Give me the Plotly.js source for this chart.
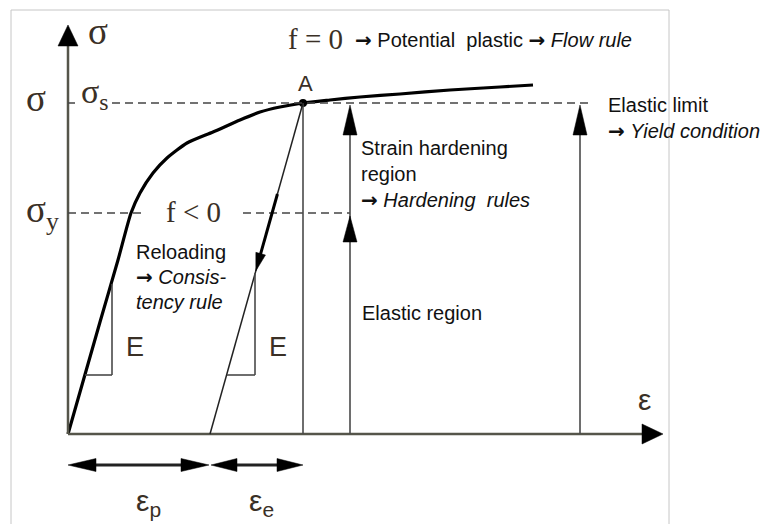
<!DOCTYPE html>
<html><head><meta charset="utf-8">
<script src="https://cdn.plot.ly/plotly-3.0.1.min.js"></script>
<style>html,body{margin:0;padding:0;background:#fff}</style>
</head><body><div id="chart" style="width:771px;height:524px"></div>
<script>
// ---- diagram data (strain, stress in diagram units) ----
const curveStrain = [0, 32, 50, 63, 72, 85, 99, 119, 145, 172, 192, 212, 235, 262, 292, 332, 382, 432, 465];
const curveStress = [0, 112, 174, 221, 241, 261, 276, 291, 302, 314, 322, 327, 331, 334, 337, 340, 344, 347, 349];
const pointA = [235, 331];          // unloading point A
const sigmaS = 331;                 // stress at A
const sigmaY = 221;                 // initial yield stress
const epsP = 142;                   // residual (plastic) strain
const hardeningStrain = 282;        // strain of hardening-region arrow
const limitStrain = 512;            // strain of elastic-limit arrow
const axisTip = [595, 409];         // ends of the strain / stress axes
const bracketStress = -31;          // level of the strain brackets
const triangleBase = 59;            // stress of the E triangles
const tri1 = [17, 44, 150];         // [x0, x1, top]
const tri2 = [159, 187, 161];
const unloadArrow = [240, 163];     // stress range of the drawn unloading arrow

const axisCol = '#55554a', lineCol = '#4a4a4a', txt = '#111', brown = '#3a3026';
const SANS = 'Liberation Sans, Arial, sans-serif', SERIF = 'Liberation Serif, Times New Roman, serif';
const ARW = '<b><span style="font-family:DejaVu Sans">→</span></b>';

function head(tx, ty, dx, dy, len, hw) {
  const n = Math.hypot(dx, dy), ux = dx / n, uy = dy / n;
  const bx = tx - ux * len, by = ty - uy * len, px = -uy, py = ux;
  return `M${tx},${ty} L${bx + px * hw},${by + py * hw} L${bx - px * hw},${by - py * hw} Z`;
}
function line(x0, y0, x1, y1, color, width, dash) {
  return {type: 'line', xref: 'x', yref: 'y', x0, y0, x1, y1, line: {color, width, dash: dash || 'solid'}};
}
function tri(path, color) {
  return {type: 'path', xref: 'x', yref: 'y', path, fillcolor: color, line: {color, width: 0.5}};
}
const onUnload = s => epsP + (pointA[0] - epsP) * s / pointA[1];

const shapes = [
  // frame
  {type: 'rect', xref: 'x', yref: 'y', x0: -57, x1: 601, y0: 424, y1: -120, line: {color: '#c6c6c6', width: 1}},
  // axes
  line(0, 0, 0, axisTip[1] - 18, axisCol, 2.5),
  line(0, 0, axisTip[0] - 18, 0, axisCol, 2.5),
  tri(head(0, axisTip[1], 0, 1, 21, 10), '#000'),
  tri(head(axisTip[0], 0, 1, 0, 21, 10), '#000'),
  // dashed stress levels
  line(0, sigmaS, 7, sigmaS, '#444', 1.5, '8px,5px'),
  line(44, sigmaS, limitStrain + 8, sigmaS, '#444', 1.5, '8px,5px'),
  line(0, sigmaY, 77, sigmaY, '#444', 1.5, '8px,5px'),
  line(175, sigmaY, hardeningStrain, sigmaY, '#444', 1.5, '8px,5px'),
  // vertical lines
  line(pointA[0], 0, pointA[0], pointA[1], lineCol, 1.6),
  line(hardeningStrain, 0, hardeningStrain, sigmaS - 20, lineCol, 1.6),
  tri(head(hardeningStrain, sigmaS - 2, 0, 1, 30, 7), '#000'),
  tri(head(hardeningStrain, sigmaY - 3, 0, 1, 26, 7), '#000'),
  line(limitStrain, 0, limitStrain, sigmaS - 20, lineCol, 1.6),
  tri(head(limitStrain, sigmaS - 2, 0, 1, 30, 7), '#000'),
  // unloading line
  line(epsP, 0, pointA[0], pointA[1], '#222', 1.5),
  line(onUnload(unloadArrow[0]), unloadArrow[0], onUnload(unloadArrow[1] + 10), unloadArrow[1] + 10, '#000', 3),
  tri(head(onUnload(unloadArrow[1]), unloadArrow[1], -(pointA[0] - epsP), -pointA[1], 18, 5), '#000'),
  // E triangles
  line(tri1[0], triangleBase, tri1[1], triangleBase, lineCol, 1.6),
  line(tri1[1], triangleBase, tri1[1], tri1[2], lineCol, 1.6),
  line(tri2[0], triangleBase, tri2[1], triangleBase, lineCol, 1.6),
  line(tri2[1], triangleBase, tri2[1], tri2[2], lineCol, 1.6),
  // strain brackets
  line(20, bracketStress, epsP - 22, bracketStress, '#222', 3),
  tri(head(0, bracketStress, -1, 0, 28, 6.5), '#000'),
  tri(head(epsP - 1, bracketStress, 1, 0, 28, 6.5), '#000'),
  line(epsP + 20, bracketStress, pointA[0] - 20, bracketStress, '#222', 3),
  tri(head(epsP + 1, bracketStress, -1, 0, 26, 6.5), '#000'),
  tri(head(pointA[0], bracketStress, 1, 0, 26, 6.5), '#000')
];

function ann(x, y, text, size, family, color, xanchor) {
  return {x, y, xref: 'x', yref: 'y', text, showarrow: false, xanchor: xanchor || 'left', yanchor: 'middle',
          font: {size, family, color}};
}
const annotations = [
  ann(18, 403, 'σ', 37, SERIF, brown),
  ann(-44, 336, 'σ', 37, SERIF, brown),
  ann(11, 340, 'σ<sub>s</sub>', 34, SERIF, brown),
  ann(-44, 222, 'σ<sub>y</sub>', 37, SERIF, brown),
  ann(218, 395, 'f = 0', 29, SERIF, brown),
  ann(285, 394, ARW + ' Potential  plastic ' + ARW + ' <i>Flow rule</i>', 20, SANS, txt),
  ann(237, 351, 'A', 22, SANS, brown, 'center'),
  ann(538, 329, 'Elastic limit', 20, SANS, txt),
  ann(538, 303, ARW + ' <i>Yield condition</i>', 20, SANS, txt),
  ann(291, 286, 'Strain hardening', 20, SANS, txt),
  ann(291, 260, 'region', 20, SANS, txt),
  ann(291, 234, ARW + ' <i>Hardening  rules</i>', 20, SANS, txt),
  ann(96, 222, 'f &lt; 0', 29, SERIF, brown),
  ann(66, 182, 'Reloading', 20, SANS, txt),
  ann(66, 157, ARW + ' <i>Consis-</i>', 20, SANS, txt),
  ann(66, 132, '<i>tency rule</i>', 20, SANS, txt),
  ann(292, 121, 'Elastic region', 20, SANS, txt),
  ann(56, 87, 'E', 27, SANS, brown),
  ann(199, 87, 'E', 27, SANS, brown),
  ann(568, 35, 'ε', 30, SANS, brown),
  ann(66, -68, 'ε<sub>p</sub>', 30, SANS, brown),
  ann(179, -68, 'ε<sub>e</sub>', 30, SANS, brown)
];

const traces = [
  {x: curveStrain, y: curveStress, mode: 'lines', line: {color: '#000', width: 3.2, shape: 'spline', smoothing: 0.6},
   hoverinfo: 'skip', showlegend: false},
  {x: [pointA[0]], y: [pointA[1]], mode: 'markers', marker: {color: '#000', size: 8}, hoverinfo: 'skip', showlegend: false}
];

const layout = {
  width: 771, height: 524, margin: {l: 0, r: 0, t: 0, b: 0},
  paper_bgcolor: '#fff', plot_bgcolor: '#fff', showlegend: false,
  xaxis: {range: [-68, 703], visible: false, fixedrange: true},
  yaxis: {range: [-90, 434], visible: false, fixedrange: true},
  shapes, annotations
};
Plotly.newPlot('chart', traces, layout, {displayModeBar: false, staticPlot: true});
</script></body></html>
